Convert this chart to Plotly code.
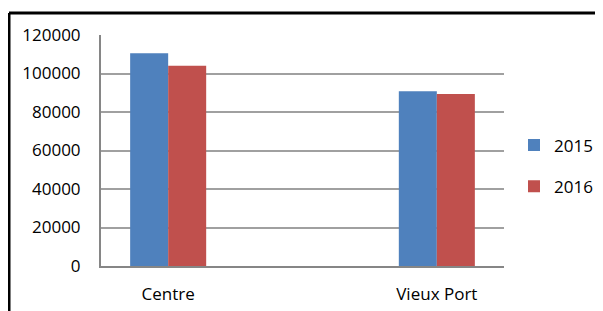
import plotly.graph_objects as go

categories = ["Centre", " ", "Vieux Port"]
series_names = ["2015", "2016"]
values_2015 = [110500, None, 90800]
values_2016 = [104000, None, 89400]
y_ticks = [0, 20000, 40000, 60000, 80000, 100000, 120000]
colors = ["#4F81BD", "#C0504D"]

# the page places the figure 8px from the top-left corner (body margin)
OFF = 8
W, H = 603 - OFF, 311 - OFF
L, R, T, B = 101 - OFF, 504 - OFF, 35 - OFF, 266 - OFF
FONT = "Open Sans"

fig = go.Figure()
for i, (name, vals) in enumerate(zip(series_names, [values_2015, values_2016])):
    fig.add_trace(go.Bar(
        x=categories, y=vals, name=name,
        marker=dict(color=colors[i], line=dict(width=0)),
        legendgroup=name,
    ))

def px_x(p):
    return (p - OFF - L) / (R - L)

def px_y(p):
    return (B - (p - OFF)) / (B - T)

fig.update_layout(
    width=W, height=H,
    margin=dict(l=L, r=W - R, t=T, b=H - B, pad=0, autoexpand=False),
    paper_bgcolor="white", plot_bgcolor="white",
    barmode="group", bargap=0.434, bargroupgap=0,
    font=dict(family=FONT, size=17, color="black"),
    showlegend=True,
    legend=dict(
        x=px_x(514), xanchor="left", y=px_y(166), yanchor="middle",
        traceorder="grouped", tracegroupgap=16,
        font=dict(family=FONT, size=17, color="black"),
        bgcolor="rgba(0,0,0,0)",
    ),
    xaxis=dict(
        type="category", categoryorder="array", categoryarray=categories,
        range=[-0.5, 2.5], automargin=False,
        showgrid=False, showline=True, linecolor="#868686", linewidth=2,
        ticks="", ticklabelstandoff=12, zeroline=False,
    ),
    yaxis=dict(
        range=[0, 120000], tickvals=y_ticks, tickformat="d", automargin=False,
        showgrid=True, gridcolor="#a0a0a0", gridwidth=1.5,
        showline=True, linecolor="#868686", linewidth=2,
        ticks="", ticklabelstandoff=15, zeroline=False,
    ),
    shapes=[
        dict(type="line", xref="paper", yref="paper",
             x0=px_x(9), x1=px_x(620), y0=px_y(13), y1=px_y(13),
             line=dict(color="black", width=3)),
        dict(type="line", xref="paper", yref="paper",
             x0=px_x(9), x1=px_x(9), y0=px_y(13), y1=px_y(330),
             line=dict(color="black", width=3)),
    ],
)

fig.write_html("out.html")
